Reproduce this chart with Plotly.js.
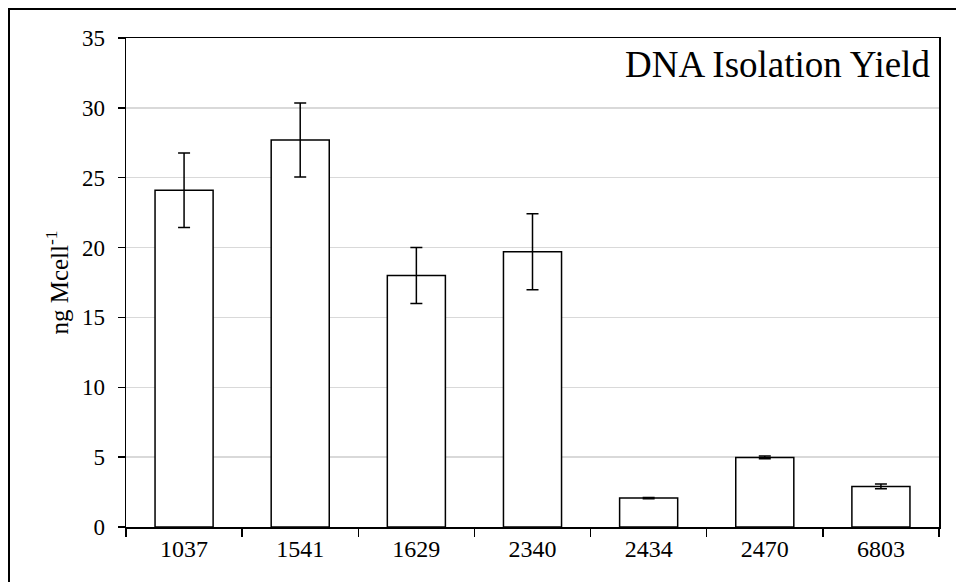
<!DOCTYPE html>
<html>
<head>
<meta charset="utf-8">
<script src="https://cdn.plot.ly/plotly-3.0.1.min.js"></script>
<style>
  html, body { margin: 0; padding: 0; background: #ffffff; }
  #wrap { position: relative; width: 956px; height: 582px; overflow: hidden; }
  #frame { position: absolute; left: 8px; top: 8px; width: 960px; height: 600px;
           border-left: 2px solid #000; border-top: 2px solid #000; }
  #chart { position: absolute; left: 0; top: 0; width: 956px; height: 582px; }
</style>
</head>
<body>
<div id="wrap">
  <div id="frame"></div>
  <div id="chart"></div>
</div>
<script>
// Data
const strains = ["1037", "1541", "1629", "2340", "2434", "2470", "6803"];
const yieldValues = [24.1, 27.7, 18.0, 19.7, 2.07, 4.98, 2.9];
const yieldErrors = [2.67, 2.65, 2.0, 2.72, 0.05, 0.1, 0.17];
const yTicks = [0, 5, 10, 15, 20, 25, 30, 35];
const chartTitle = "DNA Isolation Yield";
const yTitle = "ng Mcell<sup>-1</sup>";

const FONT = 'Liberation Serif, Times New Roman, serif';

const trace = {
  type: 'bar',
  x: strains,
  y: yieldValues,
  width: 0.5,
  marker: { color: '#ffffff', line: { color: '#000000', width: 1.5 } },
  error_y: { type: 'data', array: yieldErrors, visible: true, color: '#000000', thickness: 1.5, width: 6 },
  hoverinfo: 'x+y'
};

const layout = {
  width: 956, height: 582,
  margin: { l: 126, r: 17, t: 38, b: 55, pad: 0 },
  paper_bgcolor: 'rgba(0,0,0,0)',
  plot_bgcolor: '#ffffff',
  font: { family: FONT, color: '#000000', size: 24 },
  showlegend: false,
  bargap: 0.5,
  xaxis: {
    type: 'category',
    showline: true, linecolor: '#000000', linewidth: 1.5, mirror: true,
    ticks: 'outside', tickson: 'boundaries', ticklen: 8, tickwidth: 1.5, tickcolor: '#000000',
    showgrid: false, zeroline: false,
    tickfont: { family: FONT, size: 24, color: '#000000' }
  },
  yaxis: {
    range: [0, 35],
    tickvals: yTicks,
    ticktext: yTicks.map(String),
    showline: true, linecolor: '#000000', linewidth: 1.5, mirror: true,
    ticks: 'outside', ticklen: 7, tickwidth: 1.5, tickcolor: '#000000',
    ticklabelstandoff: 8,
    showgrid: true, gridcolor: '#d9d9d9', gridwidth: 1.5,
    zeroline: false,
    tickfont: { family: FONT, size: 23, color: '#000000' },
    title: { text: yTitle, font: { family: FONT, size: 25, color: '#000000' }, standoff: 6 }
  },
  annotations: [{
    text: chartTitle,
    xref: 'paper', yref: 'paper',
    x: 1, y: 0.945,
    xanchor: 'right', yanchor: 'middle',
    xshift: -7,
    showarrow: false,
    font: { family: FONT, size: 37, color: '#000000' }
  }]
};

Plotly.newPlot('chart', [trace], layout, { displayModeBar: false, staticPlot: true });
</script>
</body>
</html>
